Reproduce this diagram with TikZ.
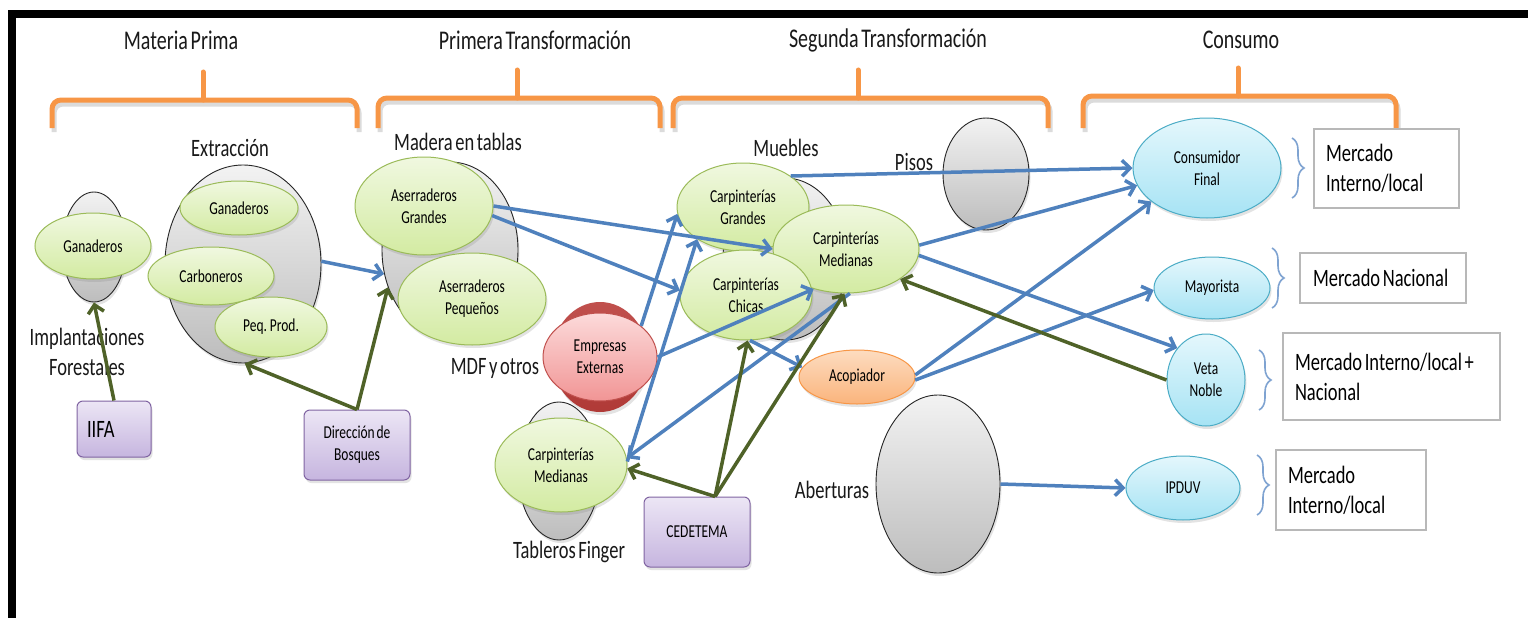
\documentclass[tikz,border=0pt]{standalone}
\usepackage{fontspec}
\setmainfont{Carlito}[FakeStretch=0.74,WordSpace=0.62]
\usetikzlibrary{arrows.meta,shapes.geometric,shadows,decorations.pathreplacing}
\definecolor{lnB}{HTML}{4F81BD}
\definecolor{lnG}{HTML}{4F6228}
\definecolor{orB}{HTML}{F79646}
\definecolor{gT}{HTML}{F0F8E0}
\definecolor{gB}{HTML}{D3EBA2}
\definecolor{gD}{HTML}{9BBB59}
\definecolor{cT}{HTML}{E4F7FC}
\definecolor{cB}{HTML}{A6E3F4}
\definecolor{cD}{HTML}{4BACC6}
\definecolor{pT}{HTML}{ECE6F5}
\definecolor{pB}{HTML}{C6B5DF}
\definecolor{pD}{HTML}{8064A2}
\definecolor{rT}{HTML}{FCDADA}
\definecolor{rB}{HTML}{F19595}
\definecolor{rD}{HTML}{C0504D}
\definecolor{rK}{HTML}{B03A37}
\definecolor{oT}{HTML}{FDDCC0}
\definecolor{oB}{HTML}{FAB47C}
\definecolor{brB}{HTML}{7FA3D1}
\newcommand\fhead{\fontsize{27}{30}\selectfont}
\newcommand\flab{\fontsize{25}{30}\selectfont}
\newcommand\fsm{\fontsize{18.2}{22}\selectfont}
\newcommand\natsp{\spaceskip=0pt\xspaceskip=0pt\relax}
\hyphenpenalty=10000
\begin{document}
\begin{tikzpicture}[x=1pt,y=-1pt,
  sz/.style 2 args={minimum width=#1pt,minimum height=#2pt},
  shd/.style={drop shadow={opacity=0.22,shadow xshift=1.5pt,shadow yshift=-3pt}},
  grayel/.style={ellipse,draw=black!85,line width=0.9pt,top color=black!5,bottom color=black!26,inner sep=0pt,shd},
  grnel/.style={ellipse,draw=gD,line width=1pt,top color=gT,bottom color=gB,inner sep=0pt,align=center,font=\fsm,shd},
  cyael/.style={ellipse,draw=cD,line width=1pt,top color=cT,bottom color=cB,inner sep=0pt,align=center,font=\fsm,shd},
  purbox/.style={rectangle,rounded corners=6pt,draw=pD,line width=1pt,top color=pT,bottom color=pB,inner sep=0pt,align=center,font=\fsm,shd},
  txtbox/.style={rectangle,draw=black!28,line width=1.2pt,fill=white,align=left,font=\flab,inner ysep=0pt},
  lab/.style={font=\flab,align=center,inner sep=0pt,text=black!90},
  head/.style={font=\fhead,inner sep=0pt,text=black!90},
  blarr/.style={draw=lnB,line width=3.5pt,-{Straight Barb[length=8pt,width=16pt]}},
  grarr/.style={draw=lnG,line width=3.5pt,-{Straight Barb[length=8pt,width=16pt]}},
  obrace/.style={draw=orB,line width=5pt,rounded corners=9pt},
  bbrace/.style={draw=brB,line width=1.6pt,decorate,decoration={brace,amplitude=12pt}},
]
\useasboundingbox (0,0) rectangle (1528,618);
\fill[white] (0,0) rectangle (1528,618);
% frame
\fill[black] (8,10) rectangle (1528,18);
\fill[black] (8,10) rectangle (16,618);
% orange braces
\foreach \a/\m/\b/\ty in {52/203/357/100, 378/517/660/98, 673/858/1048/98, 1083/1238/1396/96} {
  \draw[obrace,draw=black!40,opacity=.35] (\a+2,128+4) -- (\a+2,\ty+4) -- (\b+2,\ty+4) -- (\b+2,128+4);
  \draw[obrace] (\a,128) -- (\a,\ty) -- (\b,\ty) -- (\b,128);
  \draw[obrace,rounded corners=0pt,line cap=round] (\m,\ty) -- (\m,\ty-28);
}
% headers
\node[head] (hMP) at (181,40) {Materia Prima};
\node[head] (hPT) at (535,40) {Primera Transformación};
\node[head] (hST) at (888,40) {Segunda Transformación};
\node[head] (hCo) at (1241,40) {Consumo};
% Materia prima
\node[grayel,sz={64}{110}] (gGan) at (94,247) {};
\node[grnel,sz={116}{66}] (eGan1) at (93,246) {Ganaderos};
\node[grayel,sz={156}{198}] (gExt) at (243,264) {};
\node[grnel,sz={118}{54}] (eGan2) at (239,208) {Ganaderos};
\node[grnel,sz={126}{58}] (eCar) at (211,276) {Carboneros};
\node[grnel,sz={112}{60}] (ePeq) at (271,327) {Peq. Prod.};
% Primera transformacion
\node[grayel,sz={136}{176}] (gMad) at (450,250) {};
\node[grnel,sz={138}{98}] (eAsG) at (424,206) {Aserraderos\\Grandes};
\node[grnel,sz={148}{92}] (eAsP) at (472,299) {Aserraderos\\Pequeños};
\node[ellipse,sz={96}{110},top color=rD,bottom color=rK,inner sep=0pt,shd] (eEmpB) at (600,357) {};
\node[ellipse,draw=rD,line width=1pt,sz={114}{88},top color=rT,bottom color=rB,inner sep=0pt,align=center,font=\fsm] (eEmp) at (600,357) {Empresas\\Externas};
\node[grayel,sz={82}{138}] (gFin) at (559,471) {};
\node[grnel,sz={132}{94}] (eCMl) at (561,465) {Carpinterías\\Medianas};
% Segunda transformacion
\node[grayel,sz={124}{162}] (gMue) at (785,259) {};
\node[grnel,sz={132}{88}] (eCG) at (743,207) {Carpinterías\\Grandes};
\node[grnel,sz={146}{88}] (eCM) at (846,249) {Carpinterías\\Medianas};
\node[grnel,sz={132}{90}] (eCC) at (746,295) {Carpinterías\\Chicas};
\node[ellipse,draw=orB,line width=1pt,top color=oT,bottom color=oB,sz={116}{54},inner sep=0pt,font=\fsm,shd] (eAco) at (857,377) {Acopiador};
\node[grayel,sz={86}{112}] (gPis) at (986,174) {};
\node[grayel,sz={124}{178}] (gAbe) at (938,484) {};
% Consumo
\node[cyael,sz={148}{100}] (eCF) at (1207,168) {Consumidor\\Final};
\node[cyael,sz={116}{62}] (eMay) at (1212,288) {Mayorista};
\node[cyael,sz={78}{92}] (eVN) at (1206,380) {Veta\\Noble};
\node[cyael,sz={114}{64}] (eIP) at (1183,488) {IPDUV};
% institutions
\node[purbox,sz={74}{56},text width=54pt,align=left,font=\flab] (bIIFA) at (114,429) {IIFA};
\node[purbox,sz={106}{70}] (bDir) at (357,445) {Dirección de\\Bosques};
\node[purbox,sz={106}{70}] (bCed) at (697,532) {CEDETEMA};
% market boxes
\node[txtbox,sz={145}{79},inner xsep=12pt,text width=121pt] (tb1) at (1386.5,168.5) {\natsp\mbox{Mercado}\\\mbox{Interno/local}};
\node[txtbox,sz={166}{50},inner xsep=13pt,text width=140pt] (tb2) at (1383,278) {\natsp\mbox{Mercado Nacional}};
\node[txtbox,sz={217}{87},inner xsep=12pt,text width=193pt] (tb3) at (1391.5,376.5) {\natsp\mbox{Mercado Interno/local +}\\\mbox{Nacional}};
\node[txtbox,sz={150}{80},inner xsep=12pt,text width=126pt] (tb4) at (1351,490) {\natsp\mbox{Mercado}\\\mbox{Interno/local}};
% labels
\node[lab] (lExt) at (230,148) {Extracción};
\node[lab] (lImp) at (87,352) {Implantaciones\\Forestales};
\node[lab] (lMad) at (458,142) {Madera en tablas};
\node[lab] (lMDF) at (495,368) {MDF y otros};
\node[lab] (lTab) at (569,552) {Tableros Finger};
\node[lab] (lMue) at (786,148) {Muebles};
\node[lab] (lPis) at (914,162) {Pisos};
\node[lab] (lAbe) at (832,490) {Aberturas};
% blue connectors
\draw[blarr] (gExt.2) -- (gMad.200);
\draw[blarr] (eAsG.0) -- (eCM.180);
\draw[blarr] (eAsG.-8) -- (eCC.176);
\draw[blarr] (eEmp.37) -- (eCG.186);
\draw[blarr] (eEmp.0) -- (eCM.231);
\draw[blarr] (eCMl.3) -- (eCG.215);
\draw[blarr] (eCM.275) -- (eCMl.6);
\draw[blarr] (eCC.-85) -- (eAco.170);
\draw[blarr] (eCG.33) -- (eCF.180);
\draw[blarr] (eCM.3) -- (eCF.194);
\draw[blarr] (eAco.2) -- (eCF.211);
\draw[blarr] (eAco.-3) -- (eMay.182);
\draw[blarr] (eCM.-5) -- (eVN.132);
\draw[blarr] (gAbe.east) -- (eIP.west);
% green connectors
\draw[grarr] (bIIFA.north) -- (gGan.south);
\draw[grarr] (bDir.north) -- (gExt.-89);
\draw[grarr] (bDir.north) -- (gMad.211);
\draw[grarr] (bCed.63) -- (eCMl.-3);
\draw[grarr] (bCed.63) -- (eCC.272);
\draw[grarr] (bCed.63) -- (eCM.268);
\draw[grarr] (eVN.180) -- (eCM.-29);
% small blue braces
\draw[bbrace] (1292,138) -- (1292,198);
\draw[bbrace] (1272,248) -- (1272,308);
\draw[bbrace] (1259,350) -- (1259,410);
\draw[bbrace] (1257,455) -- (1257,515);
\end{tikzpicture}
\end{document}
